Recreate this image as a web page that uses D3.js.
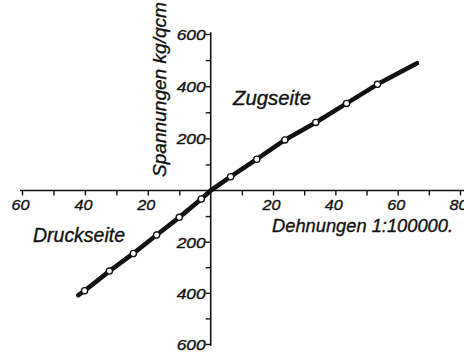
<!DOCTYPE html>
<html>
<head>
<meta charset="utf-8">
<script src="https://cdn.jsdelivr.net/npm/d3@7"></script>
<style>
  html, body { margin: 0; padding: 0; background: #fff; }
  svg { display: block; }
  text { font-family: "Liberation Sans", Arial, sans-serif; font-style: italic; fill: #111; stroke: #111; stroke-width: 0.35px; }
</style>
</head>
<body>
<svg id="chart" width="464" height="353"></svg>
<script>
// Strain (1:100000) and stress (kg/qcm) of the measured points
const tensionStrain = [6.4, 14.8, 23.8, 33.7, 43.6, 53.5];
const tensionStress = [53, 120, 194, 261, 334, 407];
const compressionStrain = [-3.0, -10.0, -17.2, -24.6, -32.2, -40.1];
const compressionStress = [-33, -105, -174, -246, -315, -392];
// Where the drawn curve begins and ends beyond the last measured points
const curveStart = [-42.1, -409];
const curveEnd = [66.2, 488];

const xTickValues = [-60, -50, -40, -30, -20, -10, 10, 20, 30, 40, 50, 60, 70, 80];
const xLabelValues = [-60, -40, -20, 20, 40, 60, 80];
const yTickValues = [-600, -500, -400, -300, -200, -100, 100, 200, 300, 400, 500, 600];
const yLabelValues = [-600, -400, -200, 200, 400, 600];

const svg = d3.select("#chart");
const W = 464, H = 353;

const x = d3.scaleLinear().domain([-60, 0, 80]).range([22, 210.7, 460]);
const y = d3.scaleLinear().domain([-600, 0, 600]).range([344, 190.5, 34]);

const ink = "#111";

// Axis lines
svg.append("line")
  .attr("x1", 20).attr("x2", W).attr("y1", y(0)).attr("y2", y(0))
  .attr("stroke", ink).attr("stroke-width", 1.6);
svg.append("line")
  .attr("x1", x(0)).attr("x2", x(0)).attr("y1", y(607)).attr("y2", y(-607))
  .attr("stroke", ink).attr("stroke-width", 1.6);

// Horizontal axis: ticks below the line, labels without sign
const xAxis = d3.axisBottom(x)
  .tickValues(xTickValues)
  .tickSize(5)
  .tickSizeOuter(0)
  .tickFormat(d => xLabelValues.includes(d) ? String(Math.abs(d)) : "");
const gx = svg.append("g").attr("transform", `translate(0,${y(0)})`).call(xAxis);
gx.select(".domain").remove();
gx.selectAll(".tick line").attr("stroke", ink).attr("stroke-width", 1.4);
gx.selectAll(".tick text")
  .attr("y", 19.5).attr("dy", null).attr("dx", -2)
  .attr("font-size", 15).attr("fill", ink)
  .attr("textLength", 18).attr("lengthAdjust", "spacingAndGlyphs");

// Vertical axis: ticks left of the line
const yAxis = d3.axisLeft(y)
  .tickValues(yTickValues)
  .tickSize(5)
  .tickSizeOuter(0)
  .tickFormat(d => yLabelValues.includes(d) ? String(Math.abs(d)) : "");
const gy = svg.append("g").attr("transform", `translate(${x(0)},0)`).call(yAxis);
gy.select(".domain").remove();
gy.selectAll(".tick line").attr("stroke", ink).attr("stroke-width", 1.4);
gy.selectAll(".tick text")
  .attr("x", -5).attr("dy", "0.36em")
  .attr("font-size", 15).attr("fill", ink)
  .attr("textLength", 29).attr("lengthAdjust", "spacingAndGlyphs");

// Stress-strain curve
const tension = tensionStrain.map((s, i) => [s, tensionStress[i]]);
const compression = compressionStrain.map((s, i) => [s, compressionStress[i]]);
const curve = [curveStart, ...compression.slice().reverse(), [0, 0], ...tension, curveEnd];

svg.append("path")
  .datum(curve)
  .attr("d", d3.line().x(d => x(d[0])).y(d => y(d[1])))
  .attr("fill", "none")
  .attr("stroke", ink)
  .attr("stroke-width", 4.6)
  .attr("stroke-linecap", "round")
  .attr("stroke-linejoin", "round");

// Measured points
svg.append("g").selectAll("circle")
  .data([...compression, ...tension])
  .join("circle")
  .attr("cx", d => x(d[0]))
  .attr("cy", d => y(d[1]))
  .attr("r", 3.1)
  .attr("fill", "#fff")
  .attr("stroke", ink)
  .attr("stroke-width", 1.3);

// Labels
svg.append("text")
  .attr("transform", `translate(166,177) rotate(-90)`)
  .attr("font-size", 19)
  .attr("textLength", 175).attr("lengthAdjust", "spacingAndGlyphs")
  .text("Spannungen kg/qcm");

svg.append("text")
  .attr("x", 233).attr("y", 105)
  .attr("font-size", 20)
  .attr("textLength", 78).attr("lengthAdjust", "spacingAndGlyphs")
  .text("Zugseite");

svg.append("text")
  .attr("x", 33).attr("y", 242)
  .attr("font-size", 19.5)
  .attr("textLength", 92).attr("lengthAdjust", "spacingAndGlyphs")
  .text("Druckseite");

svg.append("text")
  .attr("x", 272).attr("y", 232)
  .attr("font-size", 19)
  .attr("textLength", 181).attr("lengthAdjust", "spacingAndGlyphs")
  .text("Dehnungen 1:100000.");
</script>
</body>
</html>
